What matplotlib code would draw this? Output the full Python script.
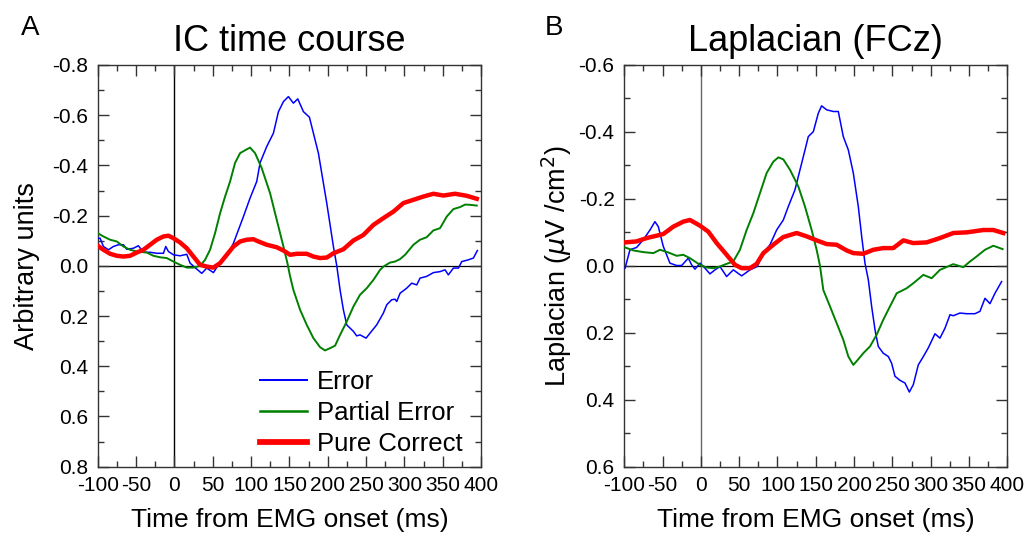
#!/usr/bin/env python3
""" Two panel plot: IC time course and Laplacian (FCz) around EMG onset """

import matplotlib
matplotlib.use('Agg')
import matplotlib.pyplot as plt
from matplotlib.ticker import MultipleLocator, FormatStrFormatter

# ---- panel A: IC time course (arbitrary units) ----
ic_err_t = [-100, -97, -92.6, -86, -79.6, -73, -66.5, -62.2, -53.5, -47, -40.4,
            -31.7, -23, -14.3, -11.3, -7.8, -1.3, 7.4, 16.1, 20.4, 29.1, 35.7,
            42.2, 50.9, 57.4, 68.3, 77, 83.5, 90, 98.7, 107.4, 111.7, 120.4,
            129.1, 135.7, 142.2, 148.7, 155.2, 160.9, 168.3, 176.1, 187.8,
            198.7, 207.4, 211.8, 216.1, 220.4, 224.8, 229.1, 233.5, 237.8,
            242.2, 250, 255.2, 263.9, 272.6, 277, 283.5, 287.8, 290, 294.4,
            303, 309.6, 316.1, 320.4, 329.1, 337.8, 346.5, 353, 357.4, 363.9,
            370.5, 374.8, 383.5, 390, 395.2]
ic_err_v = [-0.11, -0.11, -0.077, -0.064, -0.077, -0.084, -0.084, -0.066, -0.07,
            -0.08, -0.054, -0.054, -0.05, -0.05, -0.077, -0.057, -0.044, -0.04,
            -0.046, -0.011, 0.013, 0.03, 0.009, 0.027, -0.004, -0.037, -0.09,
            -0.143, -0.196, -0.27, -0.336, -0.41, -0.475, -0.528, -0.614,
            -0.654, -0.674, -0.648, -0.665, -0.614, -0.592, -0.449, -0.25,
            -0.077, 0.0, 0.096, 0.175, 0.235, 0.248, 0.261, 0.279, 0.275,
            0.288, 0.268, 0.235, 0.188, 0.155, 0.135, 0.133, 0.142, 0.109,
            0.089, 0.069, 0.076, 0.049, 0.042, 0.027, 0.023, 0.016, 0.036,
            0.009, 0.009, -0.017, -0.024, -0.031, -0.061]

ic_part_t = [-100, -92.6, -83.9, -75.2, -66.5, -57.8, -49.1, -36.1, -27.4, -18.7,
             -10, -1.3, 7.4, 16.1, 24.8, 33.5, 40, 46.5, 53, 59.6, 66.1, 72.6,
             79.1, 85.7, 94.4, 98.7, 105.2, 113.9, 124.8, 133.5, 142.2, 147.4,
             150.9, 155.2, 163.9, 172.6, 181.3, 190, 196.5, 203, 209.6, 216.1,
             224.8, 233.5, 242.2, 250.9, 259.6, 268.3, 272.6, 281.3, 287.8,
             294.4, 300.9, 311.8, 320.4, 329.1, 337.8, 346.5, 355.2, 363.9,
             372.6, 379.2, 385.7, 394.4]
ic_part_v = [-0.13, -0.117, -0.104, -0.097, -0.077, -0.064, -0.057, -0.053, -0.04,
             -0.034, -0.031, -0.017, -0.004, 0.007, 0.007, 0.0, -0.024, -0.064,
             -0.13, -0.21, -0.276, -0.336, -0.41, -0.449, -0.464, -0.471,
             -0.449, -0.389, -0.289, -0.183, -0.077, -0.011, 0.042, 0.096,
             0.175, 0.235, 0.288, 0.324, 0.337, 0.328, 0.318, 0.275, 0.222,
             0.162, 0.115, 0.089, 0.056, 0.016, 0.003, -0.013, -0.017, -0.027,
             -0.044, -0.084, -0.104, -0.114, -0.141, -0.15, -0.196, -0.226,
             -0.234, -0.244, -0.243, -0.24]

ic_pure_t = [-100, -92.6, -83.9, -75.2, -66.5, -57.8, -49.1, -40.4, -31.7, -23,
             -14.3, -7.8, -1.3, 7.4, 16.1, 24.8, 33.5, 42.2, 50.9, 59.6, 68.3,
             77, 85.7, 94.4, 103, 109.6, 120.4, 133.5, 142.2, 150.9, 159.6,
             172.6, 181.3, 190, 198.7, 207.4, 220.4, 233.5, 246.5, 259.6,
             272.6, 285.7, 298.7, 311.8, 324.8, 337.8, 350.9, 366.1, 381.3,
             394.4]
ic_pure_v = [-0.08, -0.064, -0.048, -0.04, -0.037, -0.04, -0.053, -0.064, -0.084,
             -0.104, -0.117, -0.12, -0.11, -0.093, -0.07, -0.037, -0.004, 0.003,
             0.007, -0.011, -0.044, -0.077, -0.097, -0.104, -0.106, -0.097,
             -0.084, -0.074, -0.061, -0.044, -0.048, -0.048, -0.037, -0.031,
             -0.033, -0.05, -0.066, -0.101, -0.123, -0.163, -0.19, -0.216,
             -0.25, -0.263, -0.276, -0.287, -0.28, -0.287, -0.279, -0.267]

# ---- panel B: Laplacian at FCz (uV/cm2) ----
lap_err_t = [-99, -92.6, -83.9, -75.2, -66.5, -60, -55.6, -49.1, -40.4, -31.7,
             -25.1, -16.4, -12.1, -7.7, -1.2, 5.3, 11.8, 18.4, 24.9, 33.6, 42.3,
             53.2, 64.1, 73.6, 81.5, 90.2, 98.9, 107.6, 114.1, 122.8, 129.4,
             135.9, 140.2, 146.8, 153.3, 157.6, 164.2, 172.9, 179.4, 185.9,
             192.5, 199, 205.5, 209.9, 214.2, 218.6, 222.9, 227.3, 231.6, 238.1,
             244.7, 249, 253.4, 259.9, 266.4, 272.1, 277.3, 283.8, 290.4, 296.9,
             305.6, 312.1, 318.7, 325.2, 329.5, 338.2, 347, 357.8, 364.3, 370.9,
             377.4, 383.9, 392.6]
lap_err_v = [0.007, -0.048, -0.055, -0.078, -0.107, -0.132, -0.117, -0.058,
             -0.008, -0.001, -0.001, -0.023, -0.003, 0.01, -0.008, 0.007, 0.024,
             0.012, 0.002, 0.032, 0.012, 0.03, 0.012, 0.002, -0.038, -0.063,
             -0.107, -0.137, -0.177, -0.227, -0.287, -0.346, -0.386, -0.401,
             -0.456, -0.478, -0.466, -0.461, -0.461, -0.386, -0.346, -0.277,
             -0.177, -0.088, -0.008, 0.042, 0.121, 0.191, 0.241, 0.261, 0.271,
             0.291, 0.33, 0.342, 0.35, 0.377, 0.355, 0.296, 0.271, 0.245, 0.203,
             0.216, 0.186, 0.146, 0.149, 0.141, 0.143, 0.143, 0.136, 0.097,
             0.113, 0.082, 0.047]

lap_part_t = [-99, -88.2, -75.2, -62.1, -53.4, -42.6, -31.7, -23, -14.3, -1.2,
              7.5, 16.2, 24.9, 33.6, 42.3, 51, 59.7, 68.4, 77.1, 85.8, 94.5,
              101.1, 107.6, 116.3, 127.2, 135.9, 144.6, 151.1, 155.5, 159.8,
              168.5, 177.2, 185.9, 192.5, 199, 205.5, 212, 220.7, 229.4, 238.1,
              246.9, 255.6, 268.6, 277.3, 290.4, 301.3, 312.1, 329.5, 342.6,
              351.3, 360, 370.9, 381.8, 393.9]
lap_part_v = [-0.055, -0.046, -0.041, -0.038, -0.048, -0.04, -0.03, -0.033,
              -0.023, -0.003, 0.005, 0.007, 0.002, -0.006, -0.013, -0.048,
              -0.107, -0.157, -0.217, -0.277, -0.311, -0.324, -0.318, -0.287,
              -0.237, -0.177, -0.107, -0.048, 0.0, 0.072, 0.121, 0.171, 0.221,
              0.271, 0.296, 0.279, 0.261, 0.241, 0.206, 0.161, 0.121, 0.082,
              0.067, 0.052, 0.027, 0.037, 0.012, -0.005, 0.004, -0.013, -0.028,
              -0.048, -0.06, -0.05]

lap_pure_t = [-99, -83.9, -70.8, -57.8, -49.1, -36, -23, -14.3, -1.2, 9.7, 20.6,
              33.6, 44.5, 53.2, 64.1, 72.8, 81.5, 94.5, 107.6, 125, 138.1, 151.1,
              164.2, 177.2, 190.3, 199, 212, 225.1, 238.1, 251.2, 264.3, 277.3,
              294.7, 312.1, 329.5, 347, 368.7, 381.8, 394.8]
lap_pure_v = [-0.07, -0.073, -0.083, -0.09, -0.095, -0.117, -0.132, -0.137,
              -0.12, -0.102, -0.068, -0.033, -0.003, 0.007, 0.007, -0.006,
              -0.038, -0.063, -0.086, -0.098, -0.088, -0.076, -0.065, -0.063,
              -0.046, -0.038, -0.036, -0.048, -0.053, -0.053, -0.076, -0.068,
              -0.07, -0.083, -0.098, -0.1, -0.107, -0.107, -0.098]

labels = ['Error', 'Partial Error', 'Pure Correct']
colors = ['#0000ff', '#008000', '#ff0000']
widths = [1.1, 1.4, 3.2]


def style_axes(ax, ylim, vline_color):
    """ Box with inward ticks on every side and zero lines """
    ax.set_xlim(-100, 400)
    ax.set_ylim(ylim, -ylim)
    ax.axhline(0, color='black', lw=0.9, zorder=1)
    ax.axvline(0, color=vline_color, lw=1.0, zorder=1)
    ax.xaxis.set_major_locator(MultipleLocator(50))
    ax.xaxis.set_minor_locator(MultipleLocator(25))
    ax.yaxis.set_major_locator(MultipleLocator(0.2))
    ax.yaxis.set_minor_locator(MultipleLocator(0.1))
    ax.xaxis.set_major_formatter(FormatStrFormatter('%d'))
    ax.yaxis.set_major_formatter(FormatStrFormatter('%.1f'))
    ax.tick_params(which='both', direction='in', top=True, right=True,
                   color='#333333', width=1.0)
    ax.tick_params(which='major', length=8, labelsize=15)
    ax.tick_params(which='minor', length=4.5)
    ax.tick_params(axis='x', pad=7)
    ax.tick_params(axis='y', pad=7)
    for spine in ax.spines.values():
        spine.set_color('#333333')
        spine.set_linewidth(1.0)
    ax.set_xlabel('Time from EMG onset (ms)', fontsize=19, labelpad=9)


def main():
    """ Draw both panels and save the figure """
    plt.rcParams['font.family'] = ['Liberation Sans', 'DejaVu Sans']
    plt.rcParams['axes.unicode_minus'] = False
    plt.rcParams['mathtext.fontset'] = 'dejavusans'

    fig = plt.figure(figsize=(10.29, 5.33), dpi=100)
    ax_a = fig.add_axes([0.095, 0.1244, 0.3725, 0.7537])
    ax_b = fig.add_axes([0.6067, 0.1244, 0.3722, 0.7537])

    series_a = [(ic_err_t, ic_err_v), (ic_part_t, ic_part_v),
                (ic_pure_t, ic_pure_v)]
    series_b = [(lap_err_t, lap_err_v), (lap_part_t, lap_part_v),
                (lap_pure_t, lap_pure_v)]

    for (t, v), lab, col, lw in zip(series_a, labels, colors, widths):
        ax_a.plot(t, v, color=col, lw=lw, label=lab, zorder=3)
    for (t, v), lab, col, lw in zip(series_b, labels, colors, widths):
        ax_b.plot(t, v, color=col, lw=lw, label=lab, zorder=3)

    style_axes(ax_a, 0.8, 'black')
    style_axes(ax_b, 0.6, '#666666')

    ax_a.set_ylabel('Arbitrary units', fontsize=19.5, labelpad=9)
    ax_b.set_ylabel(r'Laplacian ($\mu$V /cm$^2$)', fontsize=19.5, labelpad=3)
    ax_a.set_title('IC time course', fontsize=26, pad=10)
    ax_b.set_title('Laplacian (FCz)', fontsize=26, pad=10)

    leg = ax_a.legend(loc='upper left', bbox_to_anchor=(0.423, 0.2415),
                      frameon=False, fontsize=18.5, handlelength=1.83,
                      handletextpad=0.39, labelspacing=0.27, borderpad=0,
                      borderaxespad=0)
    for line in leg.get_lines():
        line.set_linewidth(line.get_linewidth() * 1.3)

    fig.text(0.02, 0.935, 'A', fontsize=20)
    fig.text(0.529, 0.935, 'B', fontsize=20)

    plt.savefig('out.png', dpi=100)
    plt.close()


if __name__ == "__main__":
    main()
